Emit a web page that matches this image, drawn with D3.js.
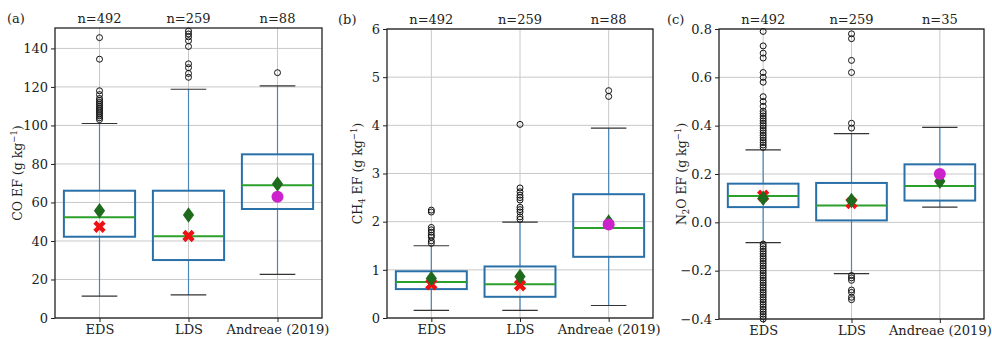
<!DOCTYPE html>
<html>
<head>
<meta charset="utf-8">
<script src="https://cdn.jsdelivr.net/npm/d3@7"></script>
<style>
  body { margin: 0; background: #fff; }
  svg { display: block; font-family: "DejaVu Serif", serif; }
</style>
</head>
<body>
<svg id="chart" width="992" height="339"></svg>
<script>
const categories = ["EDS", "LDS", "Andreae (2019)"]

// panel (a) CO
const coCounts = ["n=492", "n=259", "n=88"]
const coStats = [
  {q1: 42.2, med: 52.3, q3: 66.1, lo: 11.4, hi: 101},
  {q1: 30.1, med: 42.4, q3: 66.1, lo: 12, hi: 118.8},
  {q1: 56.6, med: 69, q3: 85, lo: 22.7, hi: 120.5}
]
const coMean = [55.7, 53.5, 69.6]
const coOther = [47.4, 42.6, 63]
const coFliers = [
  [103, 104, 105, 106, 107, 108, 109, 110, 111, 112, 113, 114, 116, 118, 134.4, 145.6],
  [125, 127, 130, 132, 141, 144, 146, 147.5, 149],
  [127.4]
]
const coTicks = [0, 20, 40, 60, 80, 100, 120, 140]

// panel (b) CH4
const ch4Counts = ["n=492", "n=259", "n=88"]
const ch4Stats = [
  {q1: 0.6, med: 0.75, q3: 0.97, lo: 0.16, hi: 1.5},
  {q1: 0.44, med: 0.7, q3: 1.07, lo: 0.16, hi: 1.99},
  {q1: 1.27, med: 1.87, q3: 2.57, lo: 0.26, hi: 3.94}
]
const ch4Mean = [0.82, 0.86, 1.99]
const ch4Other = [0.7, 0.68, 1.94]
const ch4Fliers = [
  [1.55, 1.6, 1.68, 1.72, 1.78, 1.83, 1.88, 2.2, 2.24],
  [2.05, 2.1, 2.2, 2.25, 2.3, 2.45, 2.5, 2.55, 2.62, 2.7, 4.02],
  [4.6, 4.72]
]
const ch4Ticks = [0, 1, 2, 3, 4, 5, 6]

// panel (c) N2O
const n2oCounts = ["n=492", "n=259", "n=35"]
const n2oStats = [
  {q1: 0.063, med: 0.109, q3: 0.16, lo: -0.084, hi: 0.30},
  {q1: 0.008, med: 0.07, q3: 0.163, lo: -0.212, hi: 0.367},
  {q1: 0.09, med: 0.15, q3: 0.24, lo: 0.063, hi: 0.393}
]
const n2oMean = [0.10, 0.09, 0.17]
const n2oOther = [0.11, 0.08, 0.20]
const n2oFliers = [
  [0.31, 0.32, 0.33, 0.34, 0.35, 0.36, 0.37, 0.38, 0.39, 0.40, 0.41, 0.42, 0.43, 0.44, 0.45, 0.46,
   0.48, 0.50, 0.52, 0.58, 0.60, 0.62, 0.68, 0.70, 0.73, 0.79,
   -0.09, -0.10, -0.11, -0.12, -0.13, -0.14, -0.15, -0.16, -0.17, -0.18, -0.19, -0.20, -0.21,
   -0.22, -0.23, -0.24, -0.25, -0.26, -0.27, -0.28, -0.29, -0.30, -0.31, -0.32, -0.33, -0.34,
   -0.35, -0.36, -0.37, -0.38, -0.39, -0.40],
  [0.39, 0.41, 0.62, 0.67, 0.76, 0.78, -0.22, -0.23, -0.24, -0.28, -0.29, -0.31, -0.32],
  []
]
const n2oTicks = [-0.4, -0.2, 0.0, 0.2, 0.4, 0.6, 0.8]

const svg = d3.select("#chart")

const drawPanel = (cfg) => {
  const {left, right, top, bottom, domain, ticks, fmt, stats, mean, other, fliers, counts, tag, label} = cfg
  const g = svg.append("g")

  const x = d3.scaleLinear().domain([0.5, 3.5]).range([left, right])
  const y = d3.scaleLinear().domain(domain).range([bottom, top])
  const bw = (x(1.4) - x(1))

  const defs = svg.append("defs")
  const clipId = "clip-" + tag.replace(/\W/g, "")
  defs.append("clipPath").attr("id", clipId)
    .append("rect").attr("x", left).attr("y", top - 4).attr("width", right - left).attr("height", bottom - top + 8)

  // grid
  g.selectAll(".hgrid").data(ticks).join("line")
    .attr("x1", left).attr("x2", right)
    .attr("y1", d => y(d)).attr("y2", d => y(d))
    .attr("stroke", "#c8c8c8").attr("stroke-width", 1)
  g.selectAll(".vgrid").data([1, 2, 3]).join("line")
    .attr("x1", d => x(d)).attr("x2", d => x(d))
    .attr("y1", top).attr("y2", bottom)
    .attr("stroke", "#c8c8c8").attr("stroke-width", 1)

  const inner = g.append("g").attr("clip-path", `url(#${clipId})`)

  stats.forEach((s, i) => {
    const cx = x(i + 1)
    // whiskers
    inner.append("line").attr("x1", cx).attr("x2", cx).attr("y1", y(s.q3)).attr("y2", y(s.hi))
      .attr("stroke", "#4a86b8").attr("stroke-width", 1.2)
    inner.append("line").attr("x1", cx).attr("x2", cx).attr("y1", y(s.q1)).attr("y2", y(s.lo))
      .attr("stroke", "#4a86b8").attr("stroke-width", 1.2)
    // caps
    ;[s.lo, s.hi].forEach(v => {
      inner.append("line").attr("x1", cx - bw / 2).attr("x2", cx + bw / 2)
        .attr("y1", y(v)).attr("y2", y(v))
        .attr("stroke", "#333").attr("stroke-width", 1.2)
    })
    // box
    inner.append("rect").attr("x", cx - bw).attr("width", bw * 2)
      .attr("y", y(s.q3)).attr("height", y(s.q1) - y(s.q3))
      .attr("fill", "none").attr("stroke", "#2a70a8").attr("stroke-width", 2)
    // median
    inner.append("line").attr("x1", cx - bw).attr("x2", cx + bw)
      .attr("y1", y(s.med)).attr("y2", y(s.med))
      .attr("stroke", "#2ca02c").attr("stroke-width", 2)
    // fliers
    inner.selectAll(".flier" + i).data(fliers[i]).join("circle")
      .attr("cx", cx).attr("cy", d => y(d)).attr("r", 3)
      .attr("fill", "none").attr("stroke", "#111").attr("stroke-width", 1)
    // other marker (red X or magenta circle)
    if (i < 2) {
      inner.append("path")
        .attr("d", d3.symbol(d3.symbolCross, 95)())
        .attr("transform", `translate(${cx},${y(other[i])}) rotate(45)`)
        .attr("fill", "#ee1111")
    }
    // mean diamond
    inner.append("path")
      .attr("d", d3.symbol(d3.symbolDiamond, 70)())
      .attr("transform", `translate(${cx},${y(mean[i])}) scale(1.25,1)`)
      .attr("fill", "#1e6b1e")
    if (i === 2) {
      inner.append("circle").attr("cx", cx).attr("cy", y(other[i])).attr("r", 6)
        .attr("fill", "#cc22cc")
    }
  })

  // frame
  g.append("rect").attr("x", left).attr("y", top).attr("width", right - left).attr("height", bottom - top)
    .attr("fill", "none").attr("stroke", "#222").attr("stroke-width", 1.3)

  // axes
  const yAxis = d3.axisLeft(y).tickValues(ticks).tickFormat(fmt).tickSize(4)
  const ya = g.append("g").attr("transform", `translate(${left},0)`).call(yAxis)
  ya.select(".domain").remove()
  ya.selectAll("text").attr("font-size", 13).attr("fill", "#222").attr("font-family", "DejaVu Serif")
  ya.selectAll("line").attr("stroke", "#222")

  const xAxis = d3.axisBottom(x).tickValues([1, 2, 3]).tickFormat(d => categories[d - 1]).tickSize(4)
  const xa = g.append("g").attr("transform", `translate(0,${bottom})`).call(xAxis)
  xa.select(".domain").remove()
  xa.selectAll("text").attr("font-size", 13).attr("fill", "#222").attr("font-family", "DejaVu Serif")
  xa.selectAll("line").attr("stroke", "#222")

  // counts
  g.selectAll(".count").data(counts).join("text")
    .attr("x", (d, i) => x(i + 1)).attr("y", top - 5)
    .attr("text-anchor", "middle").attr("font-size", 13).attr("fill", "#222")
    .text(d => d)

  // panel tag
  g.append("text").attr("x", cfg.tagX).attr("y", top - 5)
    .attr("font-size", 13).attr("fill", "#222").text(tag)

  // y label
  const lab = g.append("text")
    .attr("transform", `translate(${cfg.labelX},${(top + bottom) / 2}) rotate(-90)`)
    .attr("text-anchor", "middle").attr("font-size", 12.5).attr("fill", "#222")
  label.forEach(part => {
    const t = lab.append("tspan").text(part.t)
    if (part.sub) t.attr("font-size", 8.5).attr("dy", 3)
    if (part.sup) t.attr("font-size", 8.5).attr("dy", -5)
    if (part.reset) t.attr("dy", part.reset)
  })
}

drawPanel({
  left: 55, right: 322, top: 28, bottom: 318, domain: [0, 150.6], ticks: coTicks, fmt: d3.format("d"),
  stats: coStats, mean: coMean, other: coOther, fliers: coFliers, counts: coCounts,
  tag: "(a)", tagX: 7, labelX: 22,
  label: [{t: "CO EF (g kg"}, {t: "−1", sup: true}, {t: ")", reset: 5}]
})
drawPanel({
  left: 387, right: 653, top: 29, bottom: 318, domain: [0, 6], ticks: ch4Ticks, fmt: d3.format("d"),
  stats: ch4Stats, mean: ch4Mean, other: ch4Other, fliers: ch4Fliers, counts: ch4Counts,
  tag: "(b)", tagX: 338, labelX: 362,
  label: [{t: "CH"}, {t: "4", sub: true}, {t: " EF (g kg", reset: -3}, {t: "−1", sup: true}, {t: ")", reset: 5}]
})
drawPanel({
  left: 719, right: 984, top: 29, bottom: 319, domain: [-0.4, 0.8], ticks: n2oTicks, fmt: d3.format(".1f"),
  stats: n2oStats, mean: n2oMean, other: n2oOther, fliers: n2oFliers, counts: n2oCounts,
  tag: "(c)", tagX: 667, labelX: 686,
  label: [{t: "N"}, {t: "2", sub: true}, {t: "O EF (g kg", reset: -3}, {t: "−1", sup: true}, {t: ")", reset: 5}]
})
</script>
</body>
</html>
